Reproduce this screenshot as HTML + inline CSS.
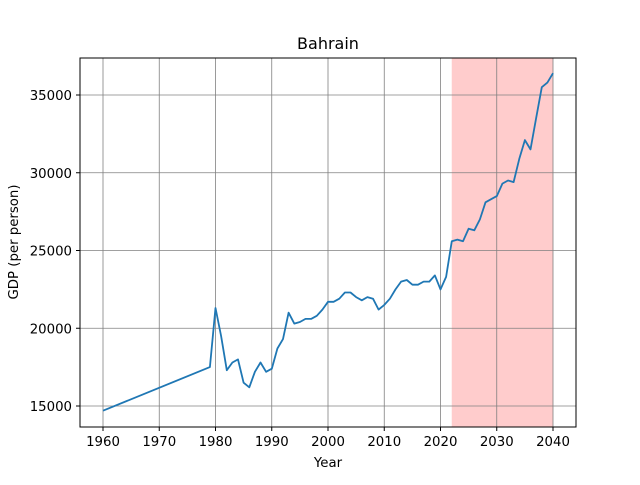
<!DOCTYPE html>
<html><head><meta charset="utf-8"><style>
body{margin:0;background:#fff;}
svg{font-family:"DejaVu Sans","Liberation Sans",sans-serif;}
</style></head><body>
<svg id="chart" width="640" height="480" viewBox="0 0 640 480">
<rect width="640" height="480" fill="#fff"/>
<g id="shade"></g>
<g id="grid"></g>
<g id="line"></g>
<rect x="80" y="58" width="496" height="369" fill="none" stroke="#000" stroke-width="1"/>
<g id="ticks"></g>
<text x="328" y="49" font-size="16" text-anchor="middle">Bahrain</text>
<text x="328" y="467" font-size="13.3" text-anchor="middle">Year</text>
<text x="18" y="242" font-size="13.3" text-anchor="middle" transform="rotate(-90 18 242)">GDP (per person)</text>
</svg>
<script>
const years=[1960,1979,1980,1981,1982,1983,1984,1985,1986,1987,1988,1989,1990,1991,1992,1993,1994,1995,1996,1997,1998,1999,2000,2001,2002,2003,2004,2005,2006,2007,2008,2009,2010,2011,2012,2013,2014,2015,2016,2017,2018,2019,2020,2021,2022,2023,2024,2025,2026,2027,2028,2029,2030,2031,2032,2033,2034,2035,2036,2037,2038,2039,2040];
const gdp=[14700,17500,21300,19500,17300,17800,18000,16500,16200,17200,17800,17200,17400,18700,19300,21000,20300,20400,20600,20600,20800,21200,21700,21700,21900,22300,22300,22000,21800,22000,21900,21200,21500,21900,22500,23000,23100,22800,22800,23000,23000,23400,22500,23300,25600,25700,25600,26400,26300,27000,28100,28300,28500,29300,29500,29400,30900,32100,31500,33500,35500,35800,36400];
const xTicks=[1960,1970,1980,1990,2000,2010,2020,2030,2040];
const yTicks=[15000,20000,25000,30000,35000];
const forecast=[2022,2040];
const NS="http://www.w3.org/2000/svg";
const xs=v=>103+(v-1960)*(553-103)/80;
const ys=v=>406-(v-15000)*(406-95)/20000;
function mk(tag,attrs,parent){const e=document.createElementNS(NS,tag);for(const k in attrs)e.setAttribute(k,attrs[k]);document.getElementById(parent).appendChild(e);return e;}
const sh=mk('rect',{x:xs(forecast[0]),y:58,width:xs(forecast[1])-xs(forecast[0]),height:369,fill:'#ff0000','fill-opacity':0.2},'shade');


xTicks.forEach(t=>{const x=xs(t);
 const g=mk('line',{x1:x,x2:x,y1:58,y2:427,stroke:'#808080','stroke-width':0.8},'grid');
 
 
 const tk=mk('line',{x1:x,x2:x,y1:427,y2:431,stroke:'#000'},'ticks');
 
 
 const tx=mk('text',{x:x,y:446,'font-size':13.3,'text-anchor':'middle'},'ticks');tx.textContent=t;
 
 
});
yTicks.forEach(t=>{const y=ys(t);
 const g=mk('line',{x1:80,x2:576,y1:y,y2:y,stroke:'#808080','stroke-width':0.8},'grid');
 
 
 const tk=mk('line',{x1:76,x2:80,y1:y,y2:y,stroke:'#000'},'ticks');
 
 
 const tx=mk('text',{x:72,y:y+5,'font-size':13.3,'text-anchor':'end'},'ticks');tx.textContent=t;
 
 
});
const pts=years.map((y,i)=>xs(y).toFixed(1)+','+ys(gdp[i]).toFixed(1)).join(' ');
const pl=mk('polyline',{points:pts,fill:'none',stroke:'#1f77b4','stroke-width':1.8,'stroke-linejoin':'round'},'line');


</script>
</body></html>
